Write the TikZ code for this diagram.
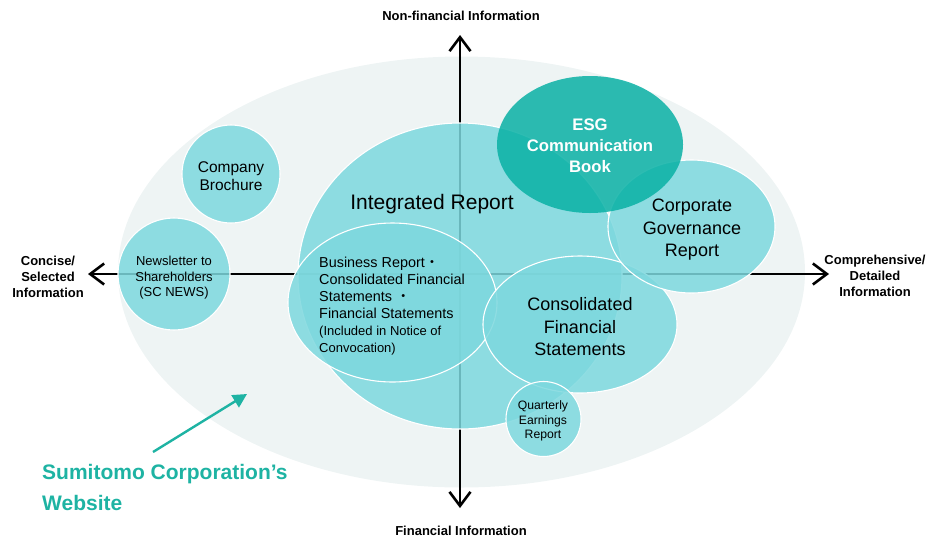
\documentclass[tikz,border=0pt]{standalone}
\usepackage{fontspec}
\setmainfont{Liberation Sans}
\newfontfamily\cjk{Noto Sans CJK JP}
\usetikzlibrary{shapes.geometric,arrows.meta}
\definecolor{bgc}{RGB}{238,244,244}
\definecolor{bub}{RGB}{125,216,222}
\definecolor{esgc}{RGB}{9,177,165}
\definecolor{sctext}{RGB}{30,179,163}
\tikzset{
  bubble/.style={ellipse, draw=white, line width=1.1pt, fill=bub, fill opacity=0.85, inner sep=0pt},
  esgbub/.style={ellipse, fill=esgc, fill opacity=0.85, inner sep=0pt},
  axisline/.style={line width=2.6pt, black, {Straight Barb[length=14pt,width=21pt]}-{Straight Barb[length=14pt,width=21pt]}},
  axlab/.style={font=\bfseries\fontsize{13}{16}\selectfont, align=center, inner sep=0pt},
  txt/.style={align=center, inner sep=0pt, text=black},
  webarrow/.style={line width=2.4pt, sctext, -{Triangle[length=14pt,width=14pt]}}
}
\begin{document}
\begin{tikzpicture}[x=1pt,y=-1pt]
\useasboundingbox (0,0) rectangle (926,539);
% background website ellipse
\node[ellipse, fill=bgc, minimum width=687pt, minimum height=431pt, inner sep=0pt] (web) at (461.5,272) {};
% axes
\coordinate (axL) at (88,274);
\coordinate (axR) at (829,274);
\coordinate (axT) at (460,35);
\coordinate (axB) at (460,508);
\draw[axisline] (axL) -- (axR);
\draw[axisline] (axB) -- (axT);
% bubbles
\node[bubble, minimum width=324pt, minimum height=306pt] (ir) at (460,276) {};
\node[bubble, circle, minimum size=98pt] (cb) at (231,174) {};
\node[bubble, circle, minimum size=112pt] (nl) at (174,274) {};
\node[bubble, minimum width=209pt, minimum height=159pt] (br) at (392.5,302.5) {};
\node[bubble, minimum width=194pt, minimum height=137pt] (cfs) at (580,324.5) {};
\node[bubble, minimum width=167pt, minimum height=133pt] (cg) at (691.5,226.5) {};
\node[esgbub, minimum width=186pt, minimum height=137pt] (esg) at (590,144.5) {};
\node[bubble, circle, minimum size=75pt] (q) at (543.5,419) {};
% texts
\node[txt, font=\fontsize{21}{25}\selectfont] (irt) at (432,204.5) {Integrated Report};
\node[txt, font=\fontsize{15.5}{18}\selectfont] (cbt) at (231,176) {Company\\Brochure};
\node[txt, font=\fontsize{13}{15.5}\selectfont] (nlt) at (174,278) {Newsletter to\\Shareholders\\(SC NEWS)};
\node[txt, align=left, anchor=west, font=\fontsize{14.4}{17}\selectfont] (brt) at (319,306)
  {Business Report{\cjk ・}\\Consolidated Financial\\Statements {\cjk ・}\\Financial Statements\\{\fontsize{13}{17}\selectfont (Included in Notice of}\\{\fontsize{13}{17}\selectfont Convocation)}};
\node[txt, text=white, font=\bfseries\fontsize{16.7}{21}\selectfont] (esgt) at (590,146) {ESG\\Communication\\Book};
\node[txt, font=\fontsize{18}{22.5}\selectfont] (cgt) at (692,230) {Corporate\\Governance\\Report};
\node[txt, font=\fontsize{18}{22.5}\selectfont] (cfst) at (580,327) {Consolidated\\Financial\\Statements};
\node[txt, font=\fontsize{12.2}{14.5}\selectfont] (qt) at (543,421) {Quarterly\\Earnings\\Report};
% axis labels
\node[axlab] (nf) at (461,16) {Non-financial Information};
\node[axlab] (fi) at (461,531) {Financial Information};
\node[axlab] (cs) at (48,277) {Concise/\\Selected\\Information};
\node[axlab] (cd) at (875,276) {Comprehensive/\\Detailed\\Information};
% website label and arrow
\node[inner sep=0pt, align=left, anchor=west, text=sctext, font=\bfseries\fontsize{21}{31}\selectfont] (webt) at (42,487) {Sumitomo Corporation’s\\Website};
\coordinate (wa) at (153,452);
\coordinate (wb) at (247,394);
\draw[webarrow] (wa) -- (wb);
\end{tikzpicture}
\end{document}
